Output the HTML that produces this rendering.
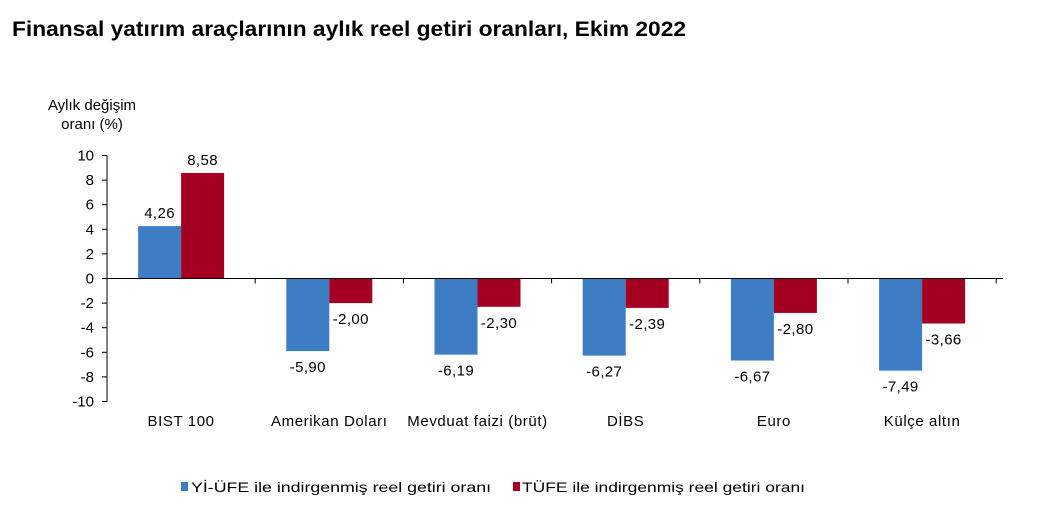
<!DOCTYPE html>
<html><head><meta charset="utf-8"><style>
body{margin:0;background:#fff;width:1050px;height:515px;overflow:hidden;font-family:"Liberation Sans",Arial,sans-serif}
</style></head><body>
<svg width="1050" height="515">
<text x="12" y="36" font-size="21" font-weight="bold" fill="#000" textLength="674" lengthAdjust="spacingAndGlyphs">Finansal yatırım araçlarının aylık reel getiri oranları, Ekim 2022</text>
<text x="92" y="110" font-size="15" text-anchor="middle">Aylık değişim</text>
<text x="92" y="129" font-size="15" text-anchor="middle">oranı (%)</text>
<g id="plot"></g>
<g>
<rect x="181" y="482" width="7" height="9" fill="#3d7dc4"/>
<text x="191" y="492" font-size="14" textLength="300" lengthAdjust="spacingAndGlyphs">Yİ-ÜFE ile indirgenmiş reel getiri oranı</text>
<rect x="513" y="482" width="7" height="9" fill="#a50021"/>
<text x="522" y="492" font-size="14" textLength="283" lengthAdjust="spacingAndGlyphs">TÜFE ile indirgenmiş reel getiri oranı</text>
</g>
</svg>
<script>
const categories=["BIST 100","Amerikan Doları","Mevduat faizi (brüt)","DİBS","Euro","Külçe altın"];
const yiufe=[4.26,-5.90,-6.19,-6.27,-6.67,-7.49];
const tufe=[8.58,-2.00,-2.30,-2.39,-2.80,-3.66];
const ticks=[10,8,6,4,2,0,-2,-4,-6,-8,-10];
const NS="http://www.w3.org/2000/svg";
const g=document.getElementById('plot');
const x0=107,x1=1003,yTop=155.5,yBot=401.5;
const y=v=>yTop+(10-v)*(yBot-yTop)/20;
const cw=148.2;
function el(t,a,txt){const e=document.createElementNS(NS,t);for(const k in a)e.setAttribute(k,a[k]);if(txt!==undefined)e.textContent=txt;g.appendChild(e);return e;}
const fmt=v=>v.toFixed(2).replace('.',',');
categories.forEach((c,i)=>{
 const cx=x0+cw*(i+0.5);
 [[yiufe[i],'#3d7dc4',cx-43,'bar-yiufe'],[tufe[i],'#a50021',cx,'bar-tufe']].forEach(([v,col,bx,nm])=>{
  const r=el('rect',{x:bx,y:Math.min(y(v),y(0)),width:43,height:Math.abs(y(v)-y(0)),fill:col});
  
  
  const ly=v>=0?y(v)-8:y(v)+21;
  const t=el('text',{x:bx+21.5,y:ly,'font-size':15,'text-anchor':'middle',fill:'#000','letter-spacing':'0.4'},fmt(v));
  
  
 });
 const cl=el('text',{x:cx,y:426,'font-size':15,'text-anchor':'middle','letter-spacing':'0.6'},c);
 
 
 const tk=el('line',{x1:x0+cw*(i+1),x2:x0+cw*(i+1),y1:y(0),y2:y(0)+5,stroke:'#000'});
 
 
});
ticks.forEach(v=>{
 const l=el('line',{x1:x0-5,x2:x0,y1:y(v),y2:y(v),stroke:'#000'});
 
 
 const t=el('text',{x:x0-13,y:y(v)+5,'font-size':15,'text-anchor':'end'},String(v));
 
 
});
const ya=el('line',{x1:x0,x2:x0,y1:yTop,y2:yBot,stroke:'#000'});


const xa=el('line',{x1:x0,x2:x1,y1:y(0),y2:y(0),stroke:'#000'});


</script>
</body></html>
